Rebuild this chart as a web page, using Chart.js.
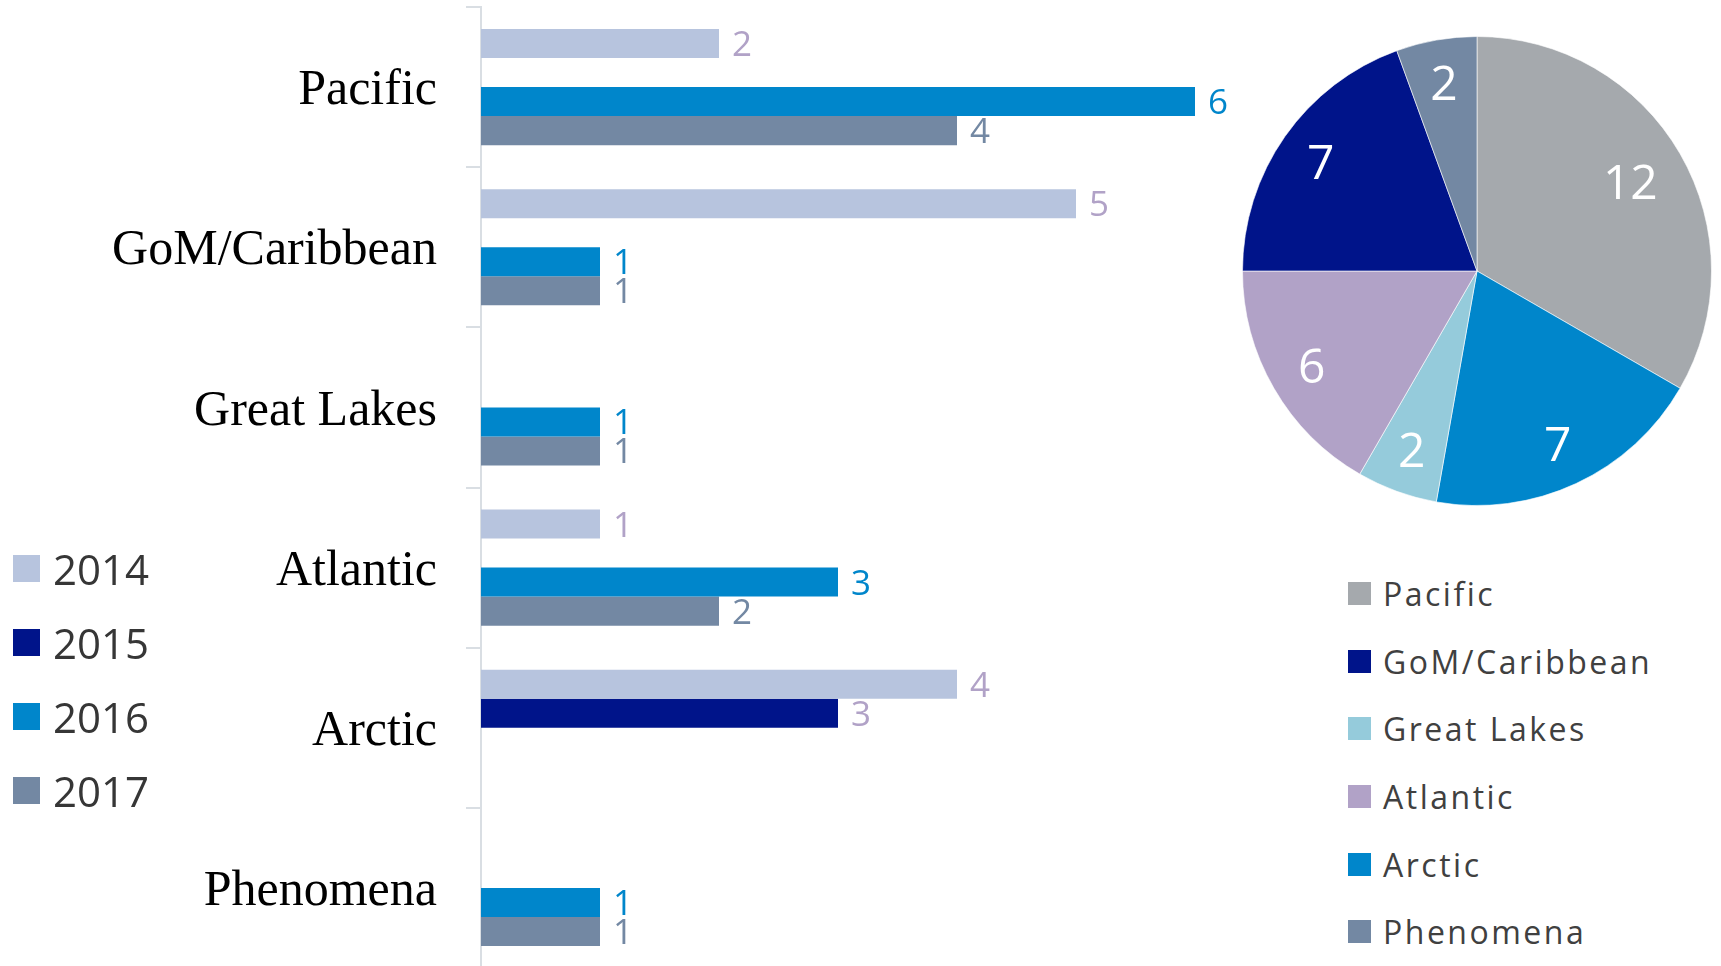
<!DOCTYPE html>
<html>
<head>
<meta charset="utf-8">
<title>Incidents by region</title>
<script src="https://cdn.jsdelivr.net/npm/chart.js@4.4.1/dist/chart.umd.min.js"></script>
<style>
    html, body {
        margin: 0;
        padding: 0;
        background: #fff;
        width: 1721px;
        height: 966px;
        overflow: hidden;
        position: relative;
    }
    #barBox { position: absolute; left: 0; top: 0; width: 1260px; height: 970px; }
    #pieBox { position: absolute; left: 1242px; top: 36px; width: 470px; height: 470px; }

    .legend {
        position: absolute;
        margin: 0;
        padding: 0;
        list-style: none;
        font-family: "Open Sans", sans-serif;
    }
    .legend li { display: flex; align-items: center; white-space: nowrap; }

    #yearLegend { left: 13px; top: 531px; }
    #yearLegend li { height: 74px; font-size: 42px; color: #363636; }
    #yearLegend .box { width: 27px; height: 27px; margin-right: 13px; }

    #regionLegend { left: 1348px; top: 560px; }
    #regionLegend li { height: 67.6px; font-size: 32px; letter-spacing: 2.5px; color: #404040; }
    #regionLegend .box { width: 23px; height: 23px; margin-right: 12px; }
</style>
</head>
<body>
<div id="barBox"><canvas id="barChart"></canvas></div>
<div id="pieBox"><canvas id="pieChart"></canvas></div>
<ul id="yearLegend" class="legend"></ul>
<ul id="regionLegend" class="legend"></ul>

<script>
// =====================
// DATA
// =====================
const regions = ["Pacific", "GoM/Caribbean", "Great Lakes", "Atlantic", "Arctic", "Phenomena"];
const years = ["2014", "2015", "2016", "2017"];

const values2014 = [2, 5, null, 1, 4, null];
const values2015 = [null, null, null, null, 3, null];
const values2016 = [6, 1, 1, 3, null, 1];
const values2017 = [4, 1, 1, 2, null, 1];

// totals shown in the pie
const regionTotals = [12, 7, 2, 6, 7, 2];
// order the slices go round the pie, clockwise from the top
const pieOrder = ["Pacific", "Arctic", "Great Lakes", "Atlantic", "GoM/Caribbean", "Phenomena"];

// =====================
// COLOURS
// =====================
const yearColors = ["#B7C4DE", "#00148A", "#0086CB", "#7388A3"];
const yearLabelColors = ["#B1A2C7", "#B1A2C7", "#0086CB", "#7388A3"];
const regionColors = ["#A5A9AD", "#00148A", "#95CBDB", "#B1A2C7", "#0086CB", "#7388A3"];

// =====================
// VALUE LABELS
// =====================
const barLabels = {
    id: "barLabels",
    afterDatasetsDraw(chart) {
        const ctx = chart.ctx;
        ctx.save();
        ctx.font = "35px 'Open Sans'";
        ctx.textAlign = "left";
        ctx.textBaseline = "alphabetic";
        chart.data.datasets.forEach((ds, i) => {
            chart.getDatasetMeta(i).data.forEach((bar, j) => {
                if (ds.data[j] == null) return;
                ctx.fillStyle = yearLabelColors[i];
                ctx.fillText(ds.data[j], bar.x + 13, bar.y + 12.5);
            });
        });
        ctx.restore();
    }
};

const pieLabels = {
    id: "pieLabels",
    afterDatasetsDraw(chart) {
        const ctx = chart.ctx;
        ctx.save();
        ctx.font = "48px 'Open Sans'";
        ctx.fillStyle = "#fff";
        ctx.textAlign = "center";
        ctx.textBaseline = "alphabetic";
        chart.getDatasetMeta(0).data.forEach((arc, i) => {
            const p = arc.getProps(["x", "y", "startAngle", "endAngle", "outerRadius"], true);
            const txt = String(chart.data.datasets[0].data[i]);
            const mid = (p.startAngle + p.endAngle) / 2;
            // keep the label inside the slice, wider labels sit further in
            const r = p.outerRadius - 30 - ctx.measureText(txt).width / 2;
            ctx.fillText(txt, p.x + Math.cos(mid) * r, p.y + Math.sin(mid) * r + 17);
        });
        ctx.restore();
    }
};

// =====================
// HTML LEGEND
// =====================
function buildLegend(chart, listId, order) {
    const ul = document.getElementById(listId);
    let items = chart.options.plugins.legend.labels.generateLabels(chart);
    if (order) {
        items = items.sort((a, b) => order.indexOf(a.text) - order.indexOf(b.text));
    }
    items.forEach(item => {
        const li = document.createElement("li");
        const box = document.createElement("span");
        box.className = "box";
        box.style.background = item.fillStyle;
        const txt = document.createElement("span");
        txt.textContent = item.text;
        li.appendChild(box);
        li.appendChild(txt);
        ul.appendChild(li);
    });
}

// =====================
// BAR CHART (BY YEAR)
// =====================
const yearValues = [values2014, values2015, values2016, values2017];

const barChart = new Chart(document.getElementById("barChart"), {
    type: "bar",
    data: {
        labels: regions,
        datasets: years.map((y, i) => ({
            label: y,
            data: yearValues[i],
            backgroundColor: yearColors[i],
            borderWidth: 0,
            barPercentage: 1,
            categoryPercentage: 0.725
        }))
    },
    options: {
        indexAxis: "y",
        responsive: true,
        maintainAspectRatio: false,
        animation: false,
        layout: {
            padding: { top: 7, bottom: 2, left: 0, right: 65 }
        },
        plugins: {
            legend: { display: false },
            tooltip: { enabled: false }
        },
        scales: {
            x: {
                display: false,
                min: 0,
                max: 6
            },
            y: {
                afterFit: scale => {
                    scale.width = 481;
                    scale.paddingTop = 0;
                    scale.paddingBottom = 0;
                },
                border: { display: true, color: "#D9DEE3", width: 2 },
                grid: {
                    drawOnChartArea: false,
                    offset: true,
                    tickLength: 15,
                    color: "#D9DEE3",
                    lineWidth: 2
                },
                ticks: {
                    color: "#000",
                    padding: 29,
                    labelOffset: 4,
                    font: { family: "'Liberation Serif', serif", size: 50 }
                }
            }
        }
    },
    plugins: [barLabels]
});

buildLegend(barChart, "yearLegend");

// =====================
// PIE CHART (TOTALS)
// =====================
const pieChart = new Chart(document.getElementById("pieChart"), {
    type: "pie",
    data: {
        labels: pieOrder,
        datasets: [{
            data: pieOrder.map(r => regionTotals[regions.indexOf(r)]),
            backgroundColor: pieOrder.map(r => regionColors[regions.indexOf(r)]),
            borderColor: "rgba(255,255,255,0.6)",
            borderWidth: 1
        }]
    },
    options: {
        responsive: true,
        maintainAspectRatio: false,
        animation: false,
        layout: { padding: 0 },
        plugins: {
            legend: { display: false },
            tooltip: { enabled: false }
        }
    },
    plugins: [pieLabels]
});

buildLegend(pieChart, "regionLegend", regions);
</script>
</body>
</html>
